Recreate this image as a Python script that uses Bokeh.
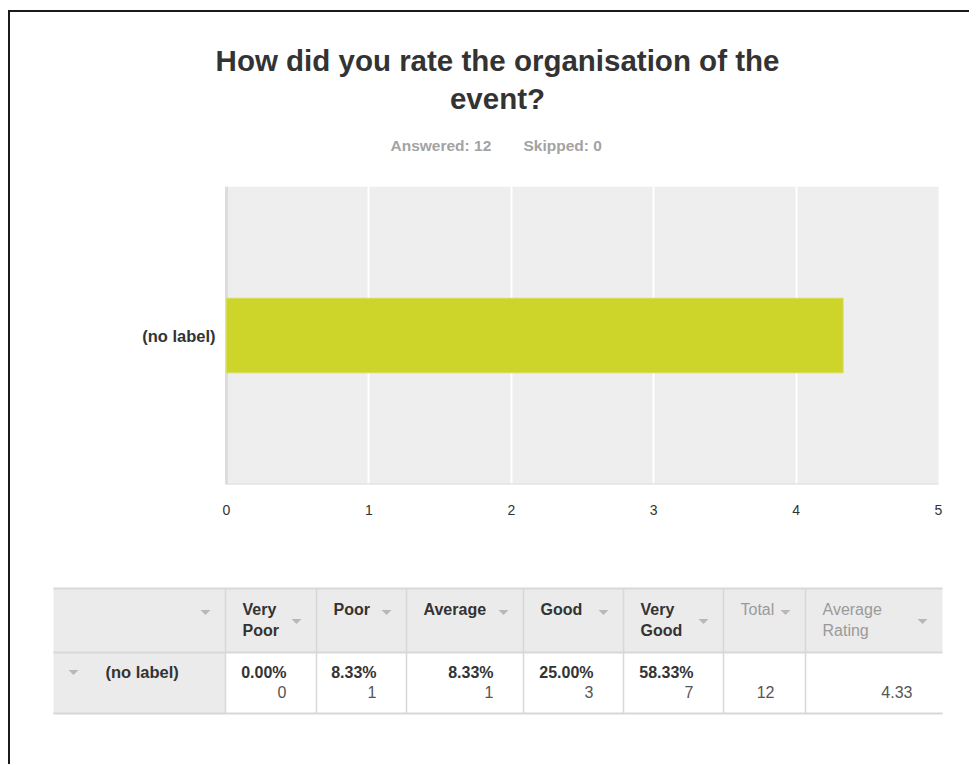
from bokeh.plotting import figure
from bokeh.models import Range1d, FixedTicker
from bokeh.layouts import column
from bokeh.core.properties import value
from bokeh.embed import file_html
from bokeh.resources import INLINE

# ---------------- data ----------------
title_lines = ["How did you rate the organisation of the", "event?"]
answered = 12
skipped = 0
row_label = "(no label)"
choices = ["Very Poor", "Poor", "Average", "Good", "Very Good"]
counts = [0, 1, 1, 3, 7]
percents = [0.00, 8.33, 8.33, 25.00, 58.33]
total = 12
avg_rating = 4.33
x_ticks = [0, 1, 2, 3, 4, 5]
header_labels = [[""], ["Very", "Poor"], ["Poor"], ["Average"], ["Good"],
                 ["Very", "Good"], ["Total"], ["Average", "Rating"]]

# ---------------- style / layout ----------------
FONT = value("Liberation Sans")
DARK = "#333333"
GREY_TXT = "#9a9a9a"
W = 959                       # content width (page x 10 .. 969)
X0 = 10                       # page x of content left edge
PX_PER_UNIT = 142.4           # chart scale (0 -> x=226, 5 -> x=938)
AX_LEFT = 226
col_bounds = [53, 225, 316, 406, 523, 623, 723, 805, 942]
tbl_top, tbl_mid, tbl_bot = 588, 652, 713

# ---------------- header (title + subtitle) ----------------
hdr = figure(width=W, height=168, x_range=Range1d(X0, X0 + W), y_range=Range1d(180, 12),
             x_axis_type=None, y_axis_type=None, toolbar_location=None,
             output_backend="svg", min_border=0, outline_line_color=None)
hdr.grid.visible = False
hdr.text(x=[497, 497], y=[60, 98], text=title_lines, text_font=FONT,
         text_font_size="29.5px", text_font_style="bold", text_color=DARK,
         text_align="center", text_baseline="middle")
hdr.text(x=[390, 523], y=[145, 145],
         text=[f"Answered: {answered}", f"Skipped: {skipped}"], text_font=FONT,
         text_font_size="15.5px", text_font_style="bold", text_color="#a3a3a3",
         text_align="left", text_baseline="middle")

# ---------------- bar chart ----------------
x_start = -(AX_LEFT - X0) / PX_PER_UNIT
x_end = x_start + W / PX_PER_UNIT
p = figure(width=W, height=360, x_range=Range1d(x_start, x_end), y_range=Range1d(0, 1),
           y_axis_type=None, toolbar_location=None, output_backend="svg",
           min_border_left=0, min_border_right=0, min_border_top=6, min_border_bottom=56,
           background_fill_color="white", outline_line_color=None)
lo, hi = x_ticks[0], x_ticks[-1]
# plot area background (below the grid)
p.quad(left=[lo], right=[hi], bottom=[0], top=[1], fill_color="#eeeeee", line_color=None,
       level="image")
p.xgrid.ticker = FixedTicker(ticks=x_ticks[1:-1])
p.xgrid.grid_line_color = "white"
p.xgrid.grid_line_width = 2
p.xgrid.level = "underlay"
p.ygrid.grid_line_color = None
# axis edges
p.segment(x0=[lo], x1=[lo], y0=[0], y1=[1], line_color="#dcdcdc", line_width=3)
p.segment(x0=[lo], x1=[hi], y0=[0], y1=[0], line_color="#dcdcdc", line_width=2)
# bar
p.hbar(y=[0.5], left=0, right=[avg_rating], height=0.25,
       fill_color="#cdd42a", line_color="#d6dc5a", line_width=1)
# category label
p.text(x=[lo], y=[0.5], text=[row_label], x_offset=-11, text_font=FONT,
       text_font_size="16.5px", text_font_style="bold", text_color=DARK,
       text_align="right", text_baseline="middle")
p.xaxis.ticker = FixedTicker(ticks=x_ticks)
p.xaxis.major_label_text_font = "Liberation Sans"
p.xaxis.major_label_text_font_size = "14px"
p.xaxis.major_label_text_color = DARK
p.xaxis.major_label_standoff = 14
p.xaxis.axis_line_color = None
p.xaxis.major_tick_line_color = None
p.xaxis.minor_tick_line_color = None

# ---------------- table ----------------
t = figure(width=W, height=224, x_range=Range1d(X0, X0 + W), y_range=Range1d(764, 540),
           x_axis_type=None, y_axis_type=None, toolbar_location=None,
           output_backend="svg", min_border=0, outline_line_color=None)
t.grid.visible = False
lefts = col_bounds[:-1]
rights = col_bounds[1:]
ncol = len(lefts)
t.quad(left=lefts, right=rights, top=[tbl_top] * ncol, bottom=[tbl_mid] * ncol,
       fill_color="#ebebeb", line_color=None)
t.quad(left=lefts, right=rights, top=[tbl_mid] * ncol, bottom=[tbl_bot] * ncol,
       fill_color=["#ebebeb"] + ["white"] * (ncol - 1), line_color=None)
t.segment(x0=[col_bounds[0]] * 3, x1=[col_bounds[-1]] * 3, y0=[tbl_top, tbl_mid, tbl_bot],
          y1=[tbl_top, tbl_mid, tbl_bot], line_color="#d8d8d8", line_width=2)
inner = col_bounds[1:-1]
t.segment(x0=inner, x1=inner, y0=[tbl_top] * len(inner), y1=[tbl_bot] * len(inner),
          line_color="#d8d8d8", line_width=1.5)

bx, by, bt = [], [], []
gx, gy, gt = [], [], []
ax, ay = [], []
for i, lines in enumerate(header_labels):
    for j, ln in enumerate(lines):
        if not ln:
            continue
        if i >= 6:
            gx.append(lefts[i] + 17); gy.append(609 + 21 * j); gt.append(ln)
        else:
            bx.append(lefts[i] + 17); by.append(609 + 21 * j); bt.append(ln)
    ax.append(rights[i] - 20)
    ay.append(621 if len(lines) > 1 else 612)
t.text(x=bx, y=by, text=bt, text_font=FONT, text_font_size="16px",
       text_font_style="bold", text_color=DARK, text_align="left", text_baseline="middle")
t.text(x=gx, y=gy, text=gt, text_font=FONT, text_font_size="16px",
       text_color=GREY_TXT, text_align="left", text_baseline="middle")
ax.append(73)
ay.append(672)
t.patches(xs=[[x - 5, x + 5, x] for x in ax], ys=[[y - 2.5, y - 2.5, y + 2.5] for y in ay],
          fill_color="#b8b8b8", line_color=None)

t.text(x=[105], y=[671], text=[row_label], text_font=FONT, text_font_size="16.5px",
       text_font_style="bold", text_color=DARK, text_align="left", text_baseline="middle")
rx = [r - 30 for r in rights[1:6]]
t.text(x=rx, y=[672] * 5, text=[f"{v:.2f}%" for v in percents], text_font=FONT,
       text_font_size="16px", text_font_style="bold", text_color=DARK,
       text_align="right", text_baseline="middle")
t.text(x=rx + [rights[6] - 31, rights[7] - 30], y=[691] * 7,
       text=[str(c) for c in counts] + [str(total), f"{avg_rating:.2f}"], text_font=FONT,
       text_font_size="16px", text_color="#555555",
       text_align="right", text_baseline="middle")

layout = column(hdr, p, t, spacing=0,
                styles={"margin-left": "8px", "margin-top": "10px",
                        "border-left": "2px solid #1a1a1a", "border-top": "2px solid #1a1a1a"})

open("out.html", "w").write(file_html(layout, INLINE))
